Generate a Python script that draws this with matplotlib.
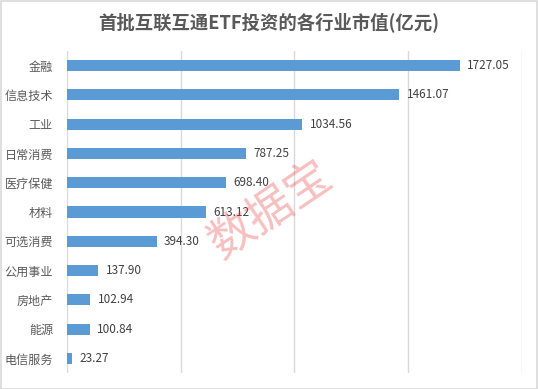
import matplotlib
matplotlib.use('Agg')
import matplotlib.pyplot as plt
from matplotlib.patches import Rectangle

plt.rcParams['font.family'] = ['Noto Sans CJK SC', 'DejaVu Sans']

# 数据
industries = ['金融', '信息技术', '工业', '日常消费', '医疗保健', '材料',
              '可选消费', '公用事业', '房地产', '能源', '电信服务']
values = [1727.05, 1461.07, 1034.56, 787.25, 698.40, 613.12,
          394.30, 137.90, 102.94, 100.84, 23.27]
x_ticks = [0, 500, 1000, 1500, 2000]

fig = plt.figure(figsize=(5.38, 3.89), dpi=100)
ax = fig.add_axes([0.1245, 0.041, 0.8455, 0.828])

pos = list(range(len(industries)))
ax.barh(pos, values, height=0.38, color='#5b9bd5', zorder=3)
for p, v in zip(pos, values):
    ax.text(v + 32, p, f'{v:.2f}', va='center', ha='left',
            fontsize=8.5, color='#404040')

ax.set_ylim(len(industries) - 0.5, -0.5)
ax.set_xlim(0, 2000)
ax.set_xticks(x_ticks)
ax.set_xticklabels([])
ax.set_yticks(pos)
ax.set_yticklabels(industries, fontsize=8.7, color='#595959')
ax.tick_params(axis='both', length=0)
ax.tick_params(axis='y', pad=10)
ax.grid(axis='x', color='#d9d9d9', linewidth=1, zorder=0)
for s in ax.spines.values():
    s.set_visible(False)

fig.text(0.499, 0.943, '首批互联互通ETF投资的各行业市值(亿元)', ha='center', va='center',
         fontsize=13.2, fontweight='bold', color='#595959')

# 水印
fig.text(0.503, 0.46, '数据宝', ha='center', va='center', rotation=34,
         fontsize=33, fontweight='light', color='#e8474a', alpha=0.35)

fig.patches.append(Rectangle((0.001, 0.001), 0.997, 0.997, transform=fig.transFigure,
                             fill=False, edgecolor='#d9d9d9', linewidth=1.2))

fig.savefig('out.png', dpi=100)
